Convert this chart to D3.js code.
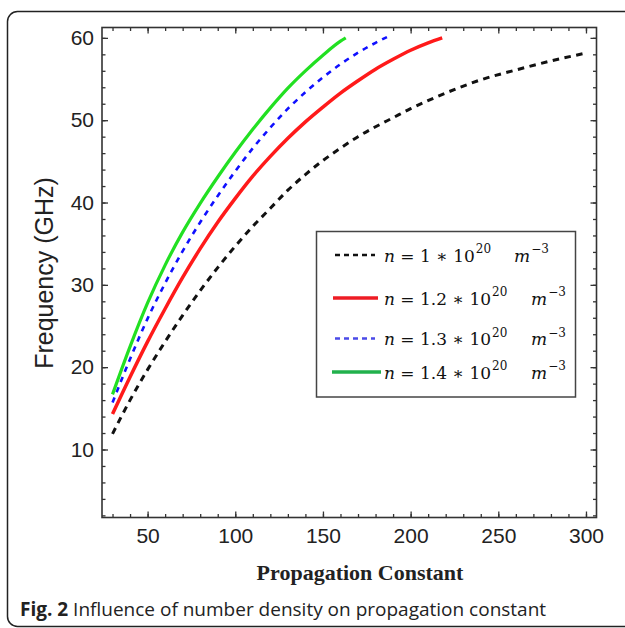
<!DOCTYPE html>
<html>
<head>
<meta charset="utf-8">
<script src="https://cdn.jsdelivr.net/npm/d3@7"></script>
<style>
  body { margin: 0; background: #fff; }
  svg { display: block; }
</style>
</head>
<body>
<svg id="chart" width="625" height="628"></svg>
<script>
// data: propagation constant (x) vs frequency in GHz (y)
let beta1 = [30, 40, 50, 60, 70, 80, 90, 100, 110, 120, 130, 140, 150, 160, 170, 180, 190, 200, 220, 240, 260, 280, 301]
let freq1 = [11.9, 16.0, 19.7, 23.1, 26.3, 29.3, 32.1, 34.7, 37.1, 39.3, 41.5, 43.4, 45.1, 46.6, 48.0, 49.2, 50.3, 51.4, 53.3, 54.9, 56.1, 57.2, 58.2]

let beta12 = [30, 40, 50, 60, 70, 80, 90, 100, 110, 120, 130, 140, 150, 160, 170, 180, 190, 200, 210, 218]
let freq12 = [14.3, 18.8, 23.1, 27.1, 30.9, 34.4, 37.6, 40.5, 43.2, 45.6, 47.8, 49.8, 51.6, 53.3, 54.8, 56.2, 57.4, 58.5, 59.4, 60.0]

let beta13 = [30, 40, 50, 60, 70, 80, 90, 100, 110, 120, 130, 140, 150, 160, 170, 180, 186.5]
let freq13 = [15.7, 21.0, 25.9, 30.2, 34.1, 37.6, 40.8, 43.8, 46.6, 49.1, 51.4, 53.4, 55.2, 56.8, 58.2, 59.4, 60.1]

let beta14 = [30, 40, 50, 60, 70, 80, 90, 100, 110, 120, 130, 140, 150, 160, 163]
let freq14 = [16.7, 22.5, 27.8, 32.4, 36.4, 39.9, 43.1, 46.1, 48.9, 51.5, 53.9, 56.0, 57.9, 59.6, 60.0]

let densities = ['1', '1.2', '1.3', '1.4']
let xTicks = [50, 100, 150, 200, 250, 300]
let yTicks = [10, 20, 30, 40, 50, 60]

let series = [
  { n: densities[0], xs: beta1, ys: freq1, color: '#111111', legendColor: '#111111', width: 3, dash: '6.5,5.5' },
  { n: densities[1], xs: beta12, ys: freq12, color: '#ff1a1a', legendColor: '#ee1c24', width: 3.5, dash: null },
  { n: densities[2], xs: beta13, ys: freq13, color: '#1010ff', legendColor: '#4a4ae8', width: 2.6, dash: '5.5,5.5' },
  { n: densities[3], xs: beta14, ys: freq14, color: '#22e022', legendColor: '#22b14c', width: 3.2, dash: null }
]

let svg = d3.select('#chart')

// plot area
let plot = { left: 102, right: 596.5, top: 27.5, bottom: 517.5 }

let x = d3.scaleLinear().domain([24, 306]).range([plot.left, plot.right])
let y = d3.scaleLinear().domain([1.74, 61.26]).range([plot.bottom, plot.top])

svg.append('rect').attr('width', 625).attr('height', 628).attr('fill', '#fff')

// rounded figure frame (runs off the right/bottom edge)
svg.append('rect')
  .attr('x', 7.5).attr('y', 11.5)
  .attr('width', 700).attr('height', 615)
  .attr('rx', 10)
  .attr('fill', 'none')
  .attr('stroke', '#222')
  .attr('stroke-width', 1.5)

let xMinor = d3.range(30, 306, 10)
let yMinor = d3.range(2, 61, 2)

function styleAxis(g) {
  g.select('.domain').remove()
  g.selectAll('line').attr('stroke', '#333').attr('stroke-width', 1.3)
  g.selectAll('text')
    .attr('fill', '#222')
    .attr('font-family', '"Liberation Sans", Arial, sans-serif')
    .attr('font-size', 21)
}

// bottom
svg.append('g').attr('transform', `translate(0,${plot.bottom})`)
  .call(d3.axisBottom(x).tickValues(xMinor).tickFormat('').tickSizeInner(-3.5).tickSizeOuter(0))
  .call(styleAxis)
svg.append('g').attr('transform', `translate(0,${plot.bottom})`)
  .call(d3.axisBottom(x).tickValues(xTicks).tickSizeInner(-6).tickSizeOuter(0).tickPadding(11))
  .call(styleAxis)
// top (mirror)
svg.append('g').attr('transform', `translate(0,${plot.top})`)
  .call(d3.axisTop(x).tickValues(xMinor).tickFormat('').tickSizeInner(-3.5).tickSizeOuter(0))
  .call(styleAxis)
svg.append('g').attr('transform', `translate(0,${plot.top})`)
  .call(d3.axisTop(x).tickValues(xTicks).tickFormat('').tickSizeInner(-6).tickSizeOuter(0))
  .call(styleAxis)
// left
svg.append('g').attr('transform', `translate(${plot.left},0)`)
  .call(d3.axisLeft(y).tickValues(yMinor).tickFormat('').tickSizeInner(-3.5).tickSizeOuter(0))
  .call(styleAxis)
svg.append('g').attr('transform', `translate(${plot.left},0)`)
  .call(d3.axisLeft(y).tickValues(yTicks).tickSizeInner(-6).tickSizeOuter(0).tickPadding(8))
  .call(styleAxis)
// right (mirror)
svg.append('g').attr('transform', `translate(${plot.right},0)`)
  .call(d3.axisRight(y).tickValues(yMinor).tickFormat('').tickSizeInner(-3.5).tickSizeOuter(0))
  .call(styleAxis)
svg.append('g').attr('transform', `translate(${plot.right},0)`)
  .call(d3.axisRight(y).tickValues(yTicks).tickFormat('').tickSizeInner(-6).tickSizeOuter(0))
  .call(styleAxis)

// plot frame
svg.append('rect')
  .attr('x', plot.left).attr('y', plot.top)
  .attr('width', plot.right - plot.left).attr('height', plot.bottom - plot.top)
  .attr('fill', 'none')
  .attr('stroke', '#333')
  .attr('stroke-width', 1.6)

// curves
let line = d3.line()
  .x(d => x(d[0]))
  .y(d => y(d[1]))
  .curve(d3.curveMonotoneX)

series.forEach(s => {
  svg.append('path')
    .datum(d3.zip(s.xs, s.ys))
    .attr('d', line)
    .attr('fill', 'none')
    .attr('stroke', s.color)
    .attr('stroke-width', s.width)
    .attr('stroke-dasharray', s.dash)
})

// legend
let legend = svg.append('g')
legend.append('rect')
  .attr('x', 316.5).attr('y', 231.5)
  .attr('width', 259).attr('height', 165.5)
  .attr('fill', '#fff')
  .attr('stroke', '#444')
  .attr('stroke-width', 1.5)

let rowY = [255, 298, 338.5, 372]
let sampleX = [[335, 375], [333, 378], [335, 375], [332, 381]]
let mX = [514, 531, 531, 531]
let legendFont = '"DejaVu Serif", "Liberation Serif", serif'

series.forEach((s, i) => {
  legend.append('line')
    .attr('x1', sampleX[i][0]).attr('x2', sampleX[i][1])
    .attr('y1', rowY[i]).attr('y2', rowY[i])
    .attr('stroke', s.legendColor)
    .attr('stroke-width', s.dash ? 2.6 : 3.5)
    .attr('stroke-dasharray', s.dash ? '5,4' : null)

  let base = rowY[i] + 6.5
  let t = legend.append('text')
    .attr('x', 384).attr('y', base)
    .attr('font-family', legendFont)
    .attr('font-size', 17)
    .attr('fill', '#111')
  t.append('tspan').attr('font-style', 'italic').text('n')
  t.append('tspan').text(' = ' + s.n + ' \u2217 10')
  let w = t.node().getComputedTextLength()
  legend.append('text')
    .attr('x', 384 + w + 1).attr('y', base - 8.5)
    .attr('font-family', legendFont)
    .attr('font-size', 12)
    .attr('fill', '#111')
    .text('20')
  let m = legend.append('text')
    .attr('x', mX[i]).attr('y', base)
    .attr('font-family', legendFont)
    .attr('font-size', 17)
    .attr('font-style', 'italic')
    .attr('fill', '#111')
    .text('m')
  let mw = m.node().getComputedTextLength()
  legend.append('text')
    .attr('x', mX[i] + mw + 1).attr('y', base - 8.5)
    .attr('font-family', legendFont)
    .attr('font-size', 12)
    .attr('fill', '#111')
    .text('\u22123')
})

// axis titles
svg.append('text')
  .attr('transform', 'translate(53,273) rotate(-90)')
  .attr('text-anchor', 'middle')
  .attr('font-family', '"Liberation Sans", Arial, sans-serif')
  .attr('font-size', 25)
  .attr('fill', '#222')
  .text('Frequency (GHz)')

svg.append('text')
  .attr('x', 360).attr('y', 580)
  .attr('text-anchor', 'middle')
  .attr('font-family', '"Liberation Serif", "Times New Roman", serif')
  .attr('font-weight', 'bold')
  .attr('font-size', 22)
  .attr('fill', '#222')
  .text('Propagation Constant')

// caption
let cap = svg.append('text')
  .attr('x', 20).attr('y', 616)
  .attr('font-family', '"Open Sans", sans-serif')
  .attr('font-size', 19)
  .attr('fill', '#222')
cap.append('tspan').attr('font-weight', 'bold').text('Fig. 2')
cap.append('tspan').text(' Influence of number density on propagation constant')
</script>
</body>
</html>
